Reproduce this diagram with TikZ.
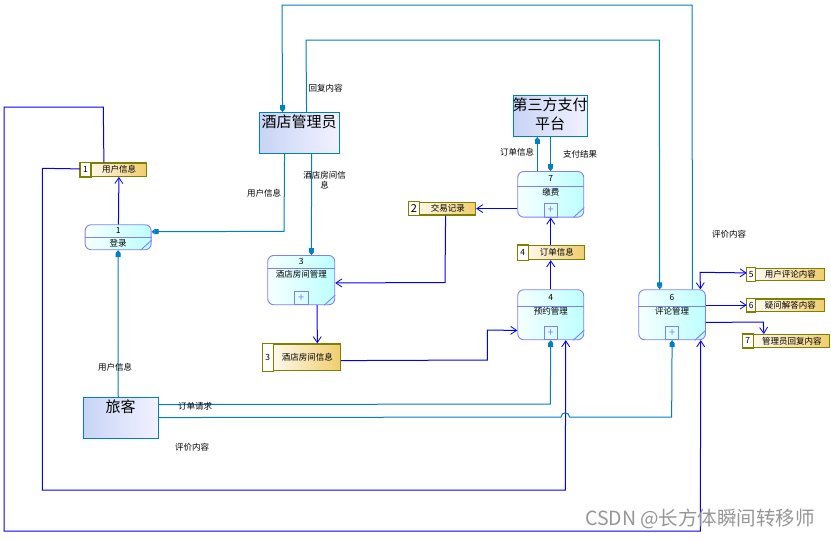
\documentclass[tikz,border=0pt]{standalone}
\usepackage{fontspec}
\setmainfont{Noto Sans CJK SC}
\usetikzlibrary{arrows.meta,calc}
\definecolor{flowblue}{RGB}{0,0,255}
\definecolor{flowteal}{RGB}{0,128,192}
\definecolor{procedge}{RGB}{128,128,255}
\definecolor{proclight}{RGB}{246,255,255}
\definecolor{procdark}{RGB}{190,255,255}
\definecolor{entlight}{RGB}{200,212,245}
\definecolor{entdark}{RGB}{242,242,255}
\definecolor{storeedge}{RGB}{128,128,0}
\definecolor{storegold}{RGB}{240,205,110}
\definecolor{wmark}{RGB}{150,150,150}
\tikzset{
  bflow/.style={draw=flowblue, line width=1pt, -{Straight Barb[length=6pt,width=8pt,line width=0.8pt]}},
  bflowboth/.style={draw=flowblue, line width=1pt, {Straight Barb[length=6pt,width=8pt,line width=0.8pt]}-{Straight Barb[length=6pt,width=8pt,line width=0.8pt]}},
  tflow/.style={draw=flowteal, line width=1pt, -{Rectangle[length=4pt,width=5pt]Triangle[length=3pt,width=5pt]}},
  tline/.style={draw=flowteal, line width=1pt},
  ent/.style={draw=flowteal, line width=1.1pt, left color=entlight, right color=entdark, inner sep=0pt},
  bigtxt/.style={font=\fontsize{15}{19}\selectfont, inner sep=0pt, align=center},
  proc/.style={draw=procedge, line width=0.9pt, rounded corners=6pt, left color=proclight, right color=procdark, inner sep=0pt},
  procline/.style={draw=procedge, line width=0.9pt},
  plusbox/.style={draw=procedge, line width=0.9pt, minimum size=13.5pt, inner sep=0pt, text=procedge, font=\fontsize{11}{11}\selectfont},
  store/.style={draw=storeedge, line width=1.2pt, left color=white, right color=storegold, inner sep=0pt},
  lbl/.style={font=\fontsize{8.5}{10}\selectfont, inner sep=0pt, align=center},
}
\newcommand\mkproc[8]{%
  \node[proc, minimum width=#4pt, minimum height=#5pt, anchor=north west] (#1) at (#2,#3) {};
  \draw[procline] ($(#1.north west)+(0,#6)$) -- ($(#1.north east)+(0,#6)$);
  \node[lbl] (#1n) at ($(#1.north)+(0,#6/2)$) {#7};
  \node[lbl, anchor=north] (#1l) at ($(#1.north)+(0,#6+1.5)$) {#8};
  \draw[procline] ($(#1.south east)+(-11,0)$) -- ($(#1.south east)+(0,-10)$);
}
\newcommand\mkplus[1]{\node[plusbox, anchor=south] (#1p) at (#1.south) {+};}
\newcommand\mkstore[8]{%
  \node[store, anchor=north west, minimum width=#4pt, minimum height=#5pt] (#1) at (#2,#3) {};
  \draw[draw=storeedge, line width=1.2pt, fill=white] (#1.north west) rectangle ($(#1.south west)+(#6,0)$);
  \node[lbl] (#1n) at ($(#1.west)+(#6/2,0)$) {#7};
  \node[lbl] (#1t) at ($(#1.center)+(#6/2,0)$) {#8};
}
\begin{document}
\begin{tikzpicture}[x=1pt,y=-1pt]
\useasboundingbox (0,0) rectangle (831,539);
\fill[white] (0,0) rectangle (831,539);

% entities
\node[ent, minimum width=80pt, minimum height=41pt, anchor=north west] (mgr) at (259,112) {};
\node[bigtxt] (mgrt) at (299,121.5) {酒店管理员};
\node[ent, minimum width=74pt, minimum height=41pt, anchor=north west] (pay) at (513,95) {};
\node[bigtxt] (payt) at (550,114.5) {第三方支付\\平台};
\node[ent, minimum width=75pt, minimum height=41pt, anchor=north west] (trav) at (83,397) {};
\node[bigtxt] (travt) at (120.5,407) {旅客};

% processes
\mkproc{p1}{84.7}{224.3}{66}{25}{13}{1}{登录}
\mkproc{p3}{267.3}{255}{67}{49.3}{13.3}{3}{酒店房间管理}
\mkplus{p3}
\mkproc{p7}{517.3}{171}{66}{45.7}{15.7}{7}{缴费}
\mkplus{p7}
\mkproc{p4}{517.3}{289.3}{66}{50}{16.7}{4}{预约管理}
\mkplus{p4}
\mkproc{p6}{638.3}{289.3}{66.7}{50}{16.7}{6}{评论管理}
\mkplus{p6}

% data stores
\mkstore{s1}{80}{162.3}{66}{13.4}{11}{1}{用户信息}
\mkstore{s3}{262.3}{343.3}{77.7}{26.7}{11}{3}{酒店房间信息}
\mkstore{s2}{408.3}{201.7}{66.7}{12.6}{11}{\fontsize{11}{11}\selectfont 2}{交易记录}
\mkstore{s4}{517.3}{245}{66.7}{14}{11}{4}{订单信息}
\mkstore{s5}{746.7}{267.7}{77.3}{12.3}{9}{5}{用户评论内容}
\mkstore{s6}{746.7}{298.3}{77.3}{12.4}{9}{6}{疑问解答内容}
\mkstore{s7}{742.3}{334}{86.7}{12.7}{11}{7}{管理员回复内容}

% connectors
\draw[tflow] ([xshift=20.35pt]p6.north) -- (692,5) -- (282,5) -- ([xshift=-17pt]mgr.north);
\draw[tflow] ([xshift=7pt]mgr.north) -- (306,40) -- (659.3,40) -- ([xshift=-12.35pt]p6.north);
\draw[tflow] ([xshift=-15pt]mgr.south) -- (284,231.3) -- ([yshift=5.5pt]p1.east);
\draw[tflow] ([xshift=12pt]mgr.south) -- ([xshift=10.2pt]p3.north);
\draw[bflow] ([xshift=-9.7pt]s1.north) -- (103.3,107) -- (4,107) -- (4,531) -- (700.3,531) -- ([xshift=28.65pt]p6.south);
\draw[bflow] ([yshift=0.7pt]s1.west) -- (42.3,168.3) -- (42.3,490) -- (565.3,490) -- ([xshift=15pt]p4.south);
\draw[bflow] ([xshift=0.3pt]p1.north) -- ([xshift=5.3pt]s1.south);
\draw[tflow] ([xshift=-2.8pt]trav.north) -- (p1.south);
\draw[tflow] ([yshift=13.5pt]trav.east) -- (550.3,404) -- (p4.south);
\draw[tflow] ([yshift=0.5pt]trav.east) -- (561,417) .. controls (561,411.5) and (569.5,411.5) .. (569.5,417) -- (671.65,417) -- (p6.south);
\draw[bflow] (p7.west |- s2.east) -- (s2.east);
\draw[bflow] ([xshift=3.35pt]s2.south) -- (445,282.5) -- ([yshift=-2.85pt]p3.east);
\draw[bflow] ([xshift=15.9pt]p3.south) -- ([xshift=15.55pt]s3.north);
\draw[bflow] ([yshift=-3.35pt]s3.east) -- (487.3,360) -- (487.3,330) -- ([yshift=-15.7pt]p4.west);
\draw[bflow] (p4.north) -- (p4.north |- s4.south);
\draw[bflow] (p4.north |- s4.north) -- (p7.south);
\draw[tflow] ([xshift=-13.3pt]pay.south |- p7.north) -- ([xshift=-13.3pt]pay.south);
\draw[tflow] (pay.south) -- (pay.south |- p7.north);
\draw[bflowboth] ([xshift=28.35pt]p6.north) -- (700,272.3) -- ([yshift=1.55pt]s5.west);
\draw[bflow] (p6.east |- s6.west) -- (s6.west);
\draw[bflow] ([yshift=-7.7pt]p6.east) -- (763.3,322) -- ([xshift=-22.35pt]s7.north);

% labels
\node[lbl] (l1) at (325.5,88) {回复内容};
\node[lbl] (l2) at (264,193) {用户信息};
\node[lbl] (l3) at (324.5,180) {酒店房间信\\息};
\node[lbl] (l4) at (517,152) {订单信息};
\node[lbl] (l5) at (580,154) {支付结果};
\node[lbl] (l6) at (729,234) {评价内容};
\node[lbl] (l7) at (115,367) {用户信息};
\node[lbl] (l8) at (195,406) {订单请求};
\node[lbl] (l9) at (192,447) {评价内容};

% watermark
\node[font=\fontsize{19.5}{20}\selectfont, text=wmark, inner sep=0pt] (wm) at (700,519) {CSDN @长方体瞬间转移师};
\end{tikzpicture}
\end{document}
